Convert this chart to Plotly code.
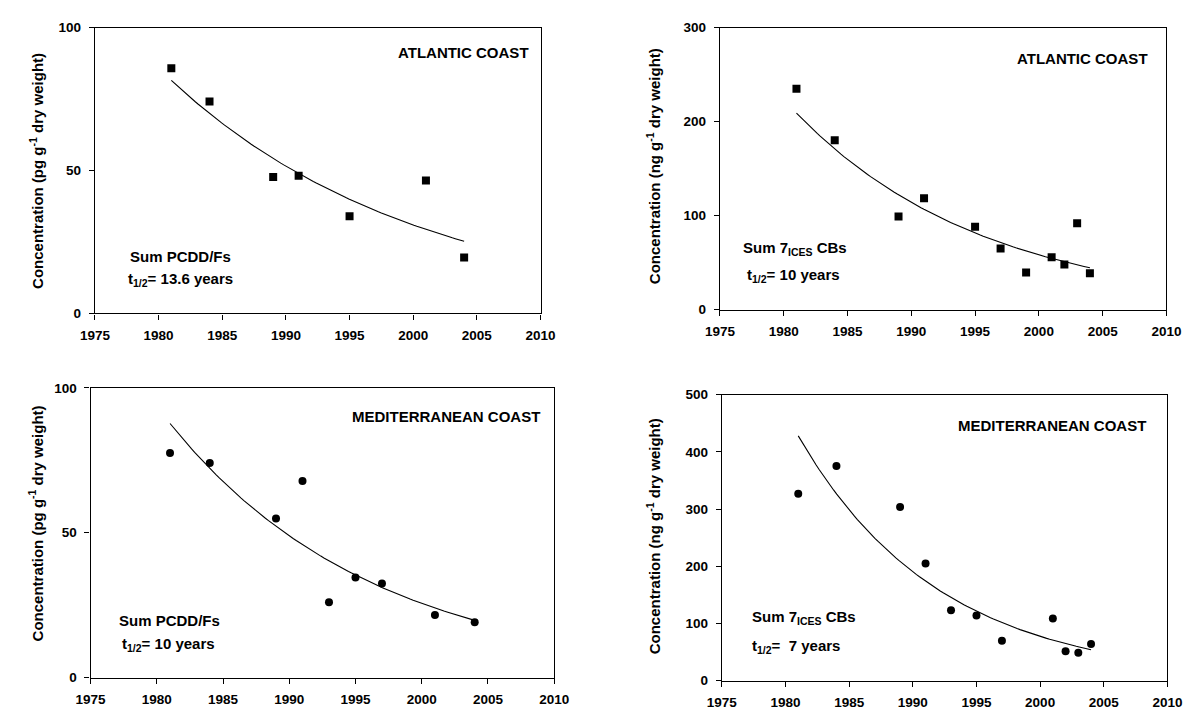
import numpy as np
import plotly.graph_objects as go

# ---------------- data ----------------
years_atl_pcdd = [1981, 1984, 1989, 1991, 1995, 2001, 2004]
vals_atl_pcdd = [85.8, 74.1, 47.7, 48.2, 34.0, 46.5, 19.6]

years_atl_cb = [1981, 1984, 1989, 1991, 1995, 1997, 1999, 2001, 2002, 2003, 2004]
vals_atl_cb = [235, 180, 99, 118.5, 88, 65, 39.5, 55.6, 48, 91.8, 38.6]

years_med_pcdd = [1981, 1984, 1989, 1991, 1993, 1995, 1997, 2001, 2004]
vals_med_pcdd = [77.5, 74.1, 54.9, 67.9, 26.0, 34.6, 32.5, 21.6, 19.1]

years_med_cb = [1981, 1984, 1989, 1991, 1993, 1995, 1997, 2001, 2002, 2003, 2004]
vals_med_cb = [326.7, 375.3, 303.8, 204.8, 123, 113.8, 69.8, 108.7, 51.5, 48.6, 64]

# exponential trend lines: value at 1981 and half-life (years) as drawn
fit_start_year = 1981
fit_end_year = 2004
fit_a = [81.5, 209, 87.7, 428]
fit_half_life = [13.6, 10.3, 10.7, 7.7]

y_ranges = [[0, 100], [0, 300], [0, 100], [0, 500]]
y_dticks = [50, 100, 50, 100]
coast_labels = ["ATLANTIC COAST", "ATLANTIC COAST", "MEDITERRANEAN COAST", "MEDITERRANEAN COAST"]
sum_labels = ["Sum PCDD/Fs", "Sum 7<sub>ICES</sub> CBs", "Sum PCDD/Fs", "Sum 7<sub>ICES</sub> CBs"]
half_labels = ["t<sub>1/2</sub>= 13.6 years", "t<sub>1/2</sub>= 10 years",
               "t<sub>1/2</sub>= 10 years", "t<sub>1/2</sub>=  7 years"]
y_titles = ["Concentration (pg g<sup>-1</sup> dry weight)",
            "Concentration (ng g<sup>-1</sup> dry weight)",
            "Concentration (pg g<sup>-1</sup> dry weight)",
            "Concentration (ng g<sup>-1</sup> dry weight)"]

# ---------------- layout geometry (pixels) ----------------
W, H = 1199, 717
# plot boxes: left, right, top, bottom
boxes = [(82, 539, 21, 313), (723, 1181, 21, 309), (77.5, 553, 389, 685), (725, 1182, 396, 688)]
# annotation positions in pixels
coast_pos = [(460, 46), (1095, 53), (442, 418), (1064, 427)]
sum_pos = [(116, 255), (745, 247), (105, 627), (754, 624)]
half_pos = [(114, 278), (749, 274), (108, 651), (754, 653)]
ytitle_pos = [(22, 167), (655, 163), (22, 527), (655, 541)]

series = [(years_atl_pcdd, vals_atl_pcdd, "square"),
          (years_atl_cb, vals_atl_cb, "square"),
          (years_med_pcdd, vals_med_pcdd, "circle"),
          (years_med_cb, vals_med_cb, "circle")]

FONT = "Liberation Sans, Arial, sans-serif"

fig = go.Figure()
layout = dict(
    width=W, height=H, margin=dict(l=0, r=0, t=0, b=0),
    paper_bgcolor="white", plot_bgcolor="white", showlegend=False,
    font=dict(family=FONT, color="black"),
)
annotations = []

for i, ((xs, ys, sym), box) in enumerate(zip(series, boxes)):
    n = "" if i == 0 else str(i + 1)
    xa, ya = "x" + n, "y" + n
    l, r, t, b = box
    layout["xaxis" + n] = dict(
        domain=[l / W, r / W], anchor=ya, range=[1975, 2010], dtick=5, tick0=1975,
        showgrid=False, zeroline=False, showline=True, linecolor="black", linewidth=1.3,
        mirror=True, ticks="outside", ticklen=5, tickwidth=1, tickcolor="black",
        tickfont=dict(family=FONT, size=13.5, weight="bold", color="black"),
        ticklabelstandoff=4,
    )
    layout["yaxis" + n] = dict(
        domain=[1 - b / H, 1 - t / H], anchor=xa, range=y_ranges[i], dtick=y_dticks[i],
        showgrid=False, zeroline=False, showline=True, linecolor="black", linewidth=1.3,
        mirror=True, ticks="outside", ticklen=5, tickwidth=1, tickcolor="black",
        tickfont=dict(family=FONT, size=13.5, weight="bold", color="black"),
        ticklabelstandoff=5,
    )
    # trend line
    tt = np.linspace(fit_start_year, fit_end_year, 100)
    yy = fit_a[i] * np.power(0.5, (tt - fit_start_year) / fit_half_life[i])
    fig.add_trace(go.Scatter(x=tt, y=yy, mode="lines", line=dict(color="black", width=1.1),
                             xaxis=xa, yaxis=ya, hoverinfo="skip"))
    fig.add_trace(go.Scatter(x=xs, y=ys, mode="markers",
                             marker=dict(symbol=sym, size=8, color="black"),
                             xaxis=xa, yaxis=ya))
    annotations.append(dict(text="<b>" + coast_labels[i] + "</b>", xref="paper", yref="paper",
                            x=coast_pos[i][0] / W, y=1 - coast_pos[i][1] / H,
                            xanchor="center", yanchor="middle", showarrow=False,
                            font=dict(family=FONT, size=15, color="black")))
    annotations.append(dict(text="<b>" + sum_labels[i] + "</b>", xref="paper", yref="paper",
                            x=sum_pos[i][0] / W, y=1 - sum_pos[i][1] / H,
                            xanchor="left", yanchor="middle", showarrow=False,
                            font=dict(family=FONT, size=15, color="black")))
    annotations.append(dict(text="<b>" + half_labels[i] + "</b>", xref="paper", yref="paper",
                            x=half_pos[i][0] / W, y=1 - half_pos[i][1] / H,
                            xanchor="left", yanchor="middle", showarrow=False,
                            font=dict(family=FONT, size=15, color="black")))
    annotations.append(dict(text="<b>" + y_titles[i] + "</b>", xref="paper", yref="paper",
                            x=ytitle_pos[i][0] / W, y=1 - ytitle_pos[i][1] / H,
                            xanchor="center", yanchor="middle", showarrow=False, textangle=-90,
                            font=dict(family=FONT, size=15, color="black")))

layout["annotations"] = annotations
fig.update_layout(**layout)
fig.write_html(
    "out.html",
    config={"displayModeBar": False},
    post_script="document.body.style.margin='0';document.body.style.overflow='hidden';",
)
